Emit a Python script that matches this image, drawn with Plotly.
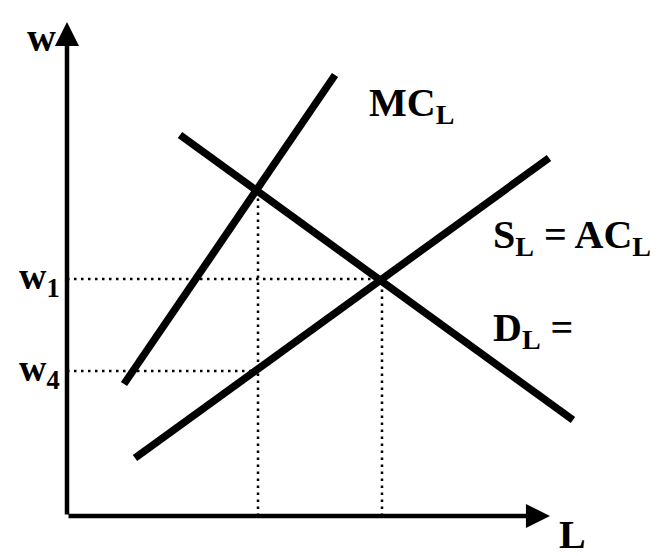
import plotly.graph_objects as go

# Curves: endpoints in (L, w) data units
mc_L = [5.7, 26.8]
mc_w = [13.2, 44.1]
d_L = [11.3, 50.6]
d_w = [38.1, 9.6]
s_L = [6.8, 48.2]
s_w = [5.8, 35.8]

# Guide levels
w_levels = [23.7, 14.5]          # w1, w4
w_guide_end = [31.5, 19.1]       # where horizontal guides stop
w_labels = ["w<sub>1</sub>", "w<sub>4</sub>"]
L_levels = [19.1, 31.5]
L_guide_top = [32.6, 23.7]

# Axis extents
x_axis_end = 48.3
y_axis_end = 49.4

FONT = "Liberation Serif, Times New Roman, serif"

fig = go.Figure()

dot = dict(color="black", width=2.5, dash="2.5px,4.5px")
for wl, we in zip(w_levels, w_guide_end):
    fig.add_trace(go.Scatter(x=[0, we], y=[wl, wl], mode="lines", line=dot, hoverinfo="skip"))
for Ll, Lt in zip(L_levels, L_guide_top):
    fig.add_trace(go.Scatter(x=[Ll, Ll], y=[0, Lt], mode="lines", line=dot, hoverinfo="skip"))

thick = dict(color="black", width=7.5)
for xs, ys in [(mc_L, mc_w), (d_L, d_w), (s_L, s_w)]:
    fig.add_trace(go.Scatter(x=xs, y=ys, mode="lines", line=thick, hoverinfo="skip"))

ann = []
# axes with arrows
for (hx, hy) in [(0, y_axis_end), (x_axis_end, 0)]:
    ann.append(dict(x=hx, y=hy, ax=0, ay=0, xref="x", yref="y", axref="x", ayref="y",
                    text="", showarrow=True, arrowhead=2, arrowsize=1.07, arrowwidth=4.5,
                    arrowcolor="black", standoff=0, startstandoff=0))

def label(text, x, y, xanchor="left", size=40):
    ann.append(dict(x=x, y=y, xref="x", yref="y", text="<b>" + text + "</b>", showarrow=False,
                    xanchor=xanchor, yanchor="middle",
                    font=dict(family=FONT, size=size, color="black")))

label("w", -2.6, 47.9, xanchor="center", size=40)
label("L", 50.5, -1.8, xanchor="center", size=40)
label("MC<sub>L</sub>", 30.0, 41.1)
label("S<sub>L</sub> = AC<sub>L</sub>", 42.4, 27.9)
label("D<sub>L</sub> =", 42.4, 18.6)
for wl, txt in zip(w_levels, w_labels):
    label(txt, -0.5, wl, xanchor="right", size=38)

# page has an 8px body margin, so the figure is 8px smaller and ranges shifted
fig.update_layout(
    width=653, height=548,
    margin=dict(l=0, r=0, t=0, b=0),
    paper_bgcolor="white", plot_bgcolor="white",
    showlegend=False,
    xaxis=dict(range=[-5.9, 59.4], visible=False),
    yaxis=dict(range=[-4.0, 50.8], visible=False),
    annotations=ann,
)

fig.write_html("out.html")
